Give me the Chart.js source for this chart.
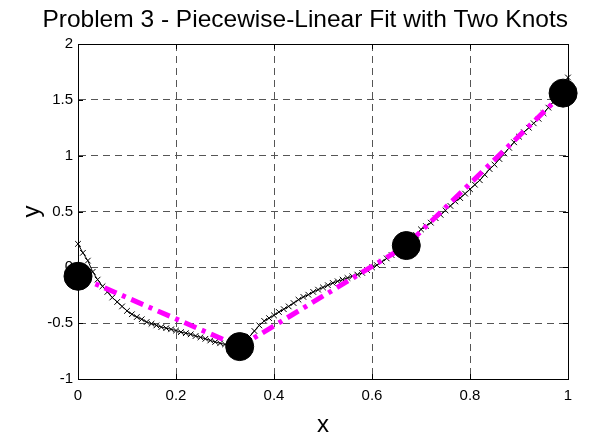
<!DOCTYPE html>
<html>
<head>
<meta charset="utf-8">
<script src="https://cdn.jsdelivr.net/npm/chart.js@4/dist/chart.umd.min.js"></script>
<style>
  html, body { margin: 0; padding: 0; background: #fff; }
  #wrap { width: 598px; height: 440px; }
</style>
</head>
<body>
<div id="wrap"><canvas id="fitChart" width="598" height="440"></canvas></div>
<script>
// raw samples (x step 0.01)
const dataX = [
  0.00, 0.01, 0.02, 0.03, 0.04, 0.05, 0.06, 0.07, 0.08, 0.09,
  0.10, 0.11, 0.12, 0.13, 0.14, 0.15, 0.16, 0.17, 0.18, 0.19,
  0.20, 0.21, 0.22, 0.23, 0.24, 0.25, 0.26, 0.27, 0.28, 0.29,
  0.30, 0.31, 0.32, 0.33, 0.34, 0.35, 0.36, 0.37, 0.38, 0.39,
  0.40, 0.41, 0.42, 0.43, 0.44, 0.45, 0.46, 0.47, 0.48, 0.49,
  0.50, 0.51, 0.52, 0.53, 0.54, 0.55, 0.56, 0.57, 0.58, 0.59,
  0.60, 0.61, 0.62, 0.63, 0.64, 0.65, 0.66, 0.67, 0.68, 0.69,
  0.70, 0.71, 0.72, 0.73, 0.74, 0.75, 0.76, 0.77, 0.78, 0.79,
  0.80, 0.81, 0.82, 0.83, 0.84, 0.85, 0.86, 0.87, 0.88, 0.89,
  0.90, 0.91, 0.92, 0.93, 0.94, 0.95, 0.96, 0.97, 0.98, 0.99, 1.00
];
const dataY = [
  0.21, 0.13, 0.06, -0.04, -0.11, -0.17, -0.22, -0.27, -0.31, -0.35,
  -0.39, -0.42, -0.445, -0.465, -0.49, -0.505, -0.52, -0.535, -0.545, -0.555,
  -0.566, -0.58, -0.59, -0.60, -0.615, -0.627, -0.64, -0.655, -0.668, -0.68,
  -0.69, -0.70, -0.705, -0.70, -0.67, -0.62, -0.57, -0.52, -0.48, -0.455,
  -0.43, -0.40, -0.375, -0.35, -0.32, -0.29, -0.265, -0.245, -0.22, -0.20,
  -0.18, -0.16, -0.14, -0.125, -0.11, -0.095, -0.08, -0.065, -0.05, -0.025,
  0.00, 0.02, 0.05, 0.08, 0.11, 0.14, 0.17, 0.20, 0.24, 0.29,
  0.34, 0.37, 0.40, 0.44, 0.47, 0.51, 0.55, 0.59, 0.62, 0.66,
  0.70, 0.74, 0.78, 0.83, 0.88, 0.92, 0.97, 1.02, 1.07, 1.12,
  1.17, 1.21, 1.25, 1.29, 1.33, 1.38, 1.43, 1.48, 1.54, 1.60, 1.70
];

// knots of the piecewise-linear fit
const knotX = [0, 0.33, 0.67, 0.99];
const knotY = [-0.08, -0.71, 0.195, 1.56];

const xTicks = [0, 0.2, 0.4, 0.6, 0.8, 1];
const yTicks = [-1, -0.5, 0, 0.5, 1, 1.5, 2];

const FONT = 'Arial, "Liberation Sans", sans-serif';

function pts(xs, ys) {
    return xs.map((x, i) => ({ x: x, y: ys[i] }));
}

// matlab style labels: 1 not 1.0
const fmt = v => String(+Number(v).toFixed(2));

// solid box + inward tick marks, like the matlab axes
const boxPlugin = {
    id: 'box',
    beforeDatasetsDraw(chart) {
        const { ctx, chartArea: a, scales } = chart;
        ctx.save();
        ctx.strokeStyle = '#000';
        ctx.lineWidth = 1;
        ctx.beginPath();
        xTicks.forEach(v => {
            const px = Math.round(scales.x.getPixelForValue(v)) + 0.5;
            ctx.moveTo(px, a.bottom); ctx.lineTo(px, a.bottom - 5);
            ctx.moveTo(px, a.top); ctx.lineTo(px, a.top + 5);
        });
        yTicks.forEach(v => {
            const py = Math.round(scales.y.getPixelForValue(v)) + 0.5;
            ctx.moveTo(a.left, py); ctx.lineTo(a.left + 5, py);
            ctx.moveTo(a.right, py); ctx.lineTo(a.right - 5, py);
        });
        ctx.stroke();
        ctx.strokeRect(Math.round(a.left) + 0.5, Math.round(a.top) + 0.5,
            Math.round(a.right - a.left), Math.round(a.bottom - a.top));
        ctx.restore();
    }
};

new Chart(document.getElementById('fitChart'), {
    type: 'scatter',
    data: {
        datasets: [
            {
                label: 'data',
                data: pts(dataX, dataY),
                showLine: true,
                borderColor: '#000',
                borderWidth: 1,
                pointStyle: 'crossRot',
                pointRadius: 4,
                pointBorderWidth: 1,
                pointBorderColor: '#000',
                clip: false,
                order: 3
            },
            {
                label: 'fit',
                data: pts(knotX, knotY),
                showLine: true,
                borderColor: '#ff00ff',
                borderWidth: 5,
                borderDash: [13, 6, 4, 6],
                borderCapStyle: 'butt',
                pointRadius: 0,
                clip: false,
                order: 2
            },
            {
                label: 'knots',
                data: pts(knotX, knotY),
                showLine: false,
                pointStyle: 'circle',
                pointRadius: 14,
                backgroundColor: '#000',
                borderColor: '#000',
                clip: false,
                order: 1
            }
        ]
    },
    options: {
        responsive: false,
        animation: false,
        devicePixelRatio: 1,
        layout: { padding: { left: 0, right: 30, top: 0, bottom: 0 } },
        plugins: {
            legend: { display: false },
            tooltip: { enabled: false },
            title: {
                display: true,
                text: 'Problem 3 - Piecewise-Linear Fit with Two Knots',
                align: 'end',
                color: '#000',
                font: { family: FONT, size: 24.5, weight: 'normal' },
                padding: { top: 5.3, bottom: 9.3 }
            }
        },
        scales: {
            x: {
                type: 'linear',
                min: 0, max: 1,
                afterBuildTicks: s => { s.ticks = xTicks.map(v => ({ value: v })); },
                afterFit: s => { s.height = 61; },
                grid: { color: '#555', lineWidth: 1, drawTicks: false },
                border: { display: true, color: '#000', dash: [7, 5] },
                ticks: { color: '#000', padding: 8, callback: fmt, font: { family: FONT, size: 15 } },
                title: {
                    display: true, text: 'x', color: '#000',
                    font: { family: FONT, size: 24 },
                    padding: { top: 0, bottom: 0 }
                }
            },
            y: {
                type: 'linear',
                min: -1, max: 2,
                afterBuildTicks: s => { s.ticks = yTicks.map(v => ({ value: v })); },
                afterFit: s => { s.width = 78; },
                grid: { color: '#555', lineWidth: 1, drawTicks: false },
                border: { display: true, color: '#000', dash: [7, 5] },
                ticks: { color: '#000', padding: 5, callback: fmt, font: { family: FONT, size: 15 } },
                title: {
                    display: true, text: 'y', color: '#000',
                    font: { family: FONT, size: 24 },
                    padding: { top: 18, bottom: 0 }
                }
            }
        }
    },
    plugins: [boxPlugin]
});
</script>
</body>
</html>
